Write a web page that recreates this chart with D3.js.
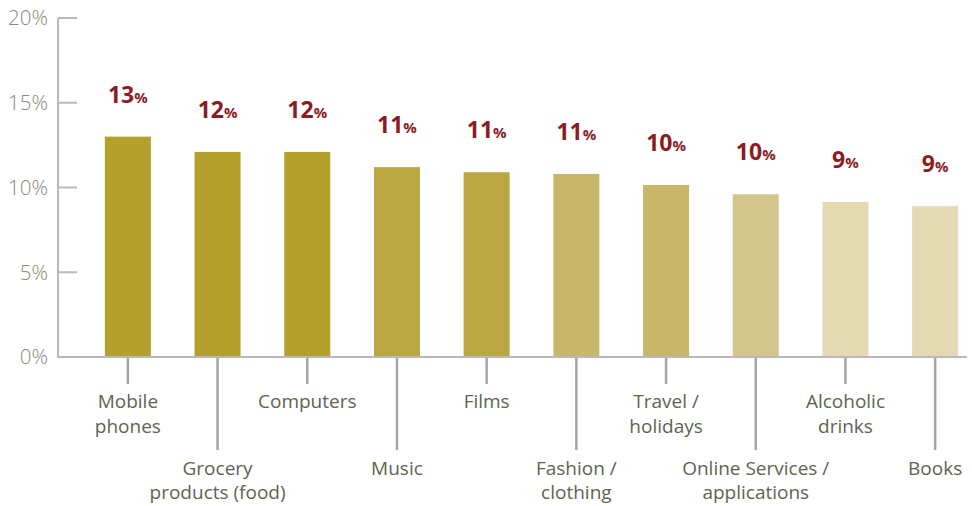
<!DOCTYPE html>
<html>
<head>
<meta charset="utf-8">
<script src="https://cdn.jsdelivr.net/npm/d3@7/dist/d3.min.js"></script>
<style>
  html, body { margin: 0; padding: 0; background: #fff; }
  svg { display: block; font-family: "Open Sans", "Noto Sans", sans-serif; }
</style>
</head>
<body>
<svg id="chart" width="972" height="506"></svg>
<script>
// Share of online purchases by product category (%)
const categories = [
  ["Mobile", "phones"],
  ["Grocery", "products (food)"],
  ["Computers"],
  ["Music"],
  ["Films"],
  ["Fashion /", "clothing"],
  ["Travel /", "holidays"],
  ["Online Services /", "applications"],
  ["Alcoholic", "drinks"],
  ["Books"]
];
const values = [13.0, 12.1, 12.1, 11.2, 10.9, 10.8, 10.15, 9.6, 9.15, 8.9];
const barColors = ["#b5a02e", "#b5a02e", "#b5a02e", "#bba741", "#bba741",
                   "#c8b76a", "#c8b76a", "#d4c58c", "#e3dab3", "#e3dab3"];
const yTicks = [0, 5, 10, 15, 20];

const svg = d3.select("#chart");
const axisX = 58, baseY = 357, topY = 18, axisRight = 967;

const y = d3.scaleLinear().domain([0, 20]).range([baseY, topY]);
const x = d3.scaleBand()
  .domain(d3.range(values.length))
  .range([83, 980])
  .paddingInner(0.487)
  .paddingOuter(0.2435);

const gridColor = "#b9b8c2";

// y axis line + ticks
svg.append("line")
  .attr("x1", axisX).attr("x2", axisX)
  .attr("y1", topY).attr("y2", baseY)
  .attr("stroke", gridColor).attr("stroke-width", 2);

const yt = svg.append("g").selectAll("g").data(yTicks).join("g")
  .attr("transform", d => `translate(0,${y(d)})`);
yt.filter(d => d > 0).append("line")
  .attr("x1", axisX).attr("x2", axisX + 19)
  .attr("stroke", gridColor).attr("stroke-width", 2);
yt.append("text")
  .attr("x", 48).attr("dy", "0.36em")
  .attr("text-anchor", "end")
  .attr("fill", "#868a78")
  .attr("font-size", 20.5)
  .attr("font-weight", 300)
  .text(d => d + "%");

// bars
svg.append("g").selectAll("rect").data(values).join("rect")
  .attr("x", (d, i) => x(i))
  .attr("width", x.bandwidth())
  .attr("y", d => y(d))
  .attr("height", d => baseY - y(d))
  .attr("fill", (d, i) => barColors[i]);

// baseline
svg.append("line")
  .attr("x1", axisX - 1).attr("x2", axisRight)
  .attr("y1", baseY).attr("y2", baseY)
  .attr("stroke", gridColor).attr("stroke-width", 2);

// category ticks and staggered labels
const cat = svg.append("g").selectAll("g").data(categories).join("g")
  .attr("transform", (d, i) => `translate(${x(i) + x.bandwidth() / 2},0)`);
cat.append("line")
  .attr("y1", baseY + 1)
  .attr("y2", (d, i) => i % 2 === 0 ? 384 : 450)
  .attr("stroke", "#a3a4ad").attr("stroke-width", 2.5);
cat.each(function(lines, i) {
  const t = d3.select(this).append("text")
    .attr("text-anchor", "middle")
    .attr("fill", "#5e6450")
    .attr("font-size", 19);
  const y0 = i % 2 === 0 ? 408 : 475;
  const gap = i % 2 === 0 ? 25 : 24;
  lines.forEach((ln, k) => {
    t.append("tspan").attr("x", 0).attr("y", y0 + k * gap).text(ln);
  });
});

// value labels
const vl = svg.append("g").selectAll("text").data(values).join("text")
  .attr("x", (d, i) => x(i) + x.bandwidth() / 2)
  .attr("y", d => y(d) - 34)
  .attr("text-anchor", "middle")
  .attr("fill", "#8c1c1f")
  .attr("font-weight", "bold");
vl.append("tspan").attr("font-size", 23).text(d => Math.round(d));
vl.append("tspan").attr("font-size", 15).text("%");
</script>
</body>
</html>
